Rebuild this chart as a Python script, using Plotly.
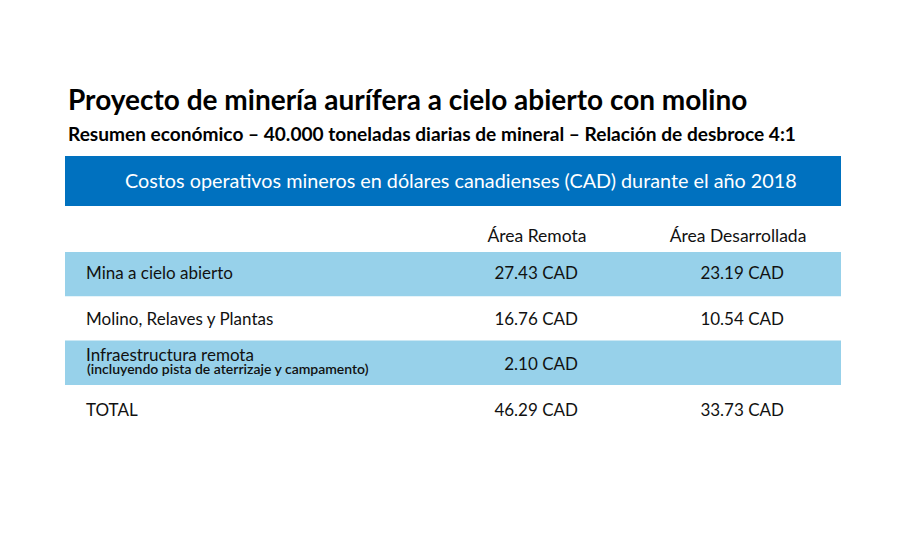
import plotly.graph_objects as go

# ---- data ----
title_text = "Proyecto de minería aurífera a cielo abierto con molino"
subtitle_text = "Resumen económico – 40.000 toneladas diarias de mineral – Relación de desbroce 4:1"
banner_text = "Costos operativos mineros en dólares canadienses (CAD) durante el año 2018"
column_headers = ["Área Remota", "Área Desarrollada"]
categories = ["Mina a cielo abierto", "Molino, Relaves y Plantas", "Infraestructura remota", "TOTAL"]
category_notes = ["", "", "(incluyendo pista de aterrizaje y campamento)", ""]
remote_values = [27.43, 16.76, 2.10, 46.29]
developed_values = [23.19, 10.54, None, 33.73]
currency = "CAD"

# ---- layout constants (page pixels) ----
PAGE_W, PAGE_H = 900, 540
BODY_MARGIN = 8  # default page margin around the plot div
LEFT, RIGHT = 65, 841
BANNER_TOP, BANNER_BOTTOM = 156, 206
ROW_TOP, ROW_H = 252, 44.3
TEXT_ROW_H = 45.5
LABEL_X = 86
REMOTE_RIGHT, DEV_RIGHT = 578, 784
REMOTE_CENTER, DEV_CENTER = 537, 738
HEADER_Y = 238
DARK_BLUE = "#0071BF"
LIGHT_BLUE = "#97D1EA"
TEXT = "#111111"
FONT = "Lato"
CELL_SIZE = 17

n = len(categories)
row_centers = [ROW_TOP + (i + 0.5) * TEXT_ROW_H for i in range(n)]
label_y = [c - 9 if note else c for c, note in zip(row_centers, category_notes)]

def fmt(v):
    return "" if v is None else f"{v:.2f} {currency}"

fig = go.Figure()

# category labels
fig.add_trace(go.Scatter(
    x=[LABEL_X] * n, y=label_y, mode="text", text=categories,
    textposition="middle right",
    textfont=dict(family=FONT, size=CELL_SIZE, color=TEXT),
    hoverinfo="skip", showlegend=False))

# category notes
note_idx = [i for i, nt in enumerate(category_notes) if nt]
fig.add_trace(go.Scatter(
    x=[LABEL_X + 1] * len(note_idx), y=[row_centers[i] + 5 for i in note_idx],
    mode="text", text=[category_notes[i] for i in note_idx],
    textposition="middle right",
    textfont=dict(family=FONT, size=14, color=TEXT, weight=600),
    hoverinfo="skip", showlegend=False))

# remote values
fig.add_trace(go.Scatter(
    x=[REMOTE_RIGHT] * n, y=row_centers, mode="text",
    text=[fmt(v) for v in remote_values], textposition="middle left",
    textfont=dict(family=FONT, size=CELL_SIZE, color=TEXT),
    hoverinfo="skip", showlegend=False))

# developed values
fig.add_trace(go.Scatter(
    x=[DEV_RIGHT] * n, y=row_centers, mode="text",
    text=[fmt(v) for v in developed_values], textposition="middle left",
    textfont=dict(family=FONT, size=CELL_SIZE, color=TEXT),
    hoverinfo="skip", showlegend=False))

# column headers
fig.add_trace(go.Scatter(
    x=[REMOTE_CENTER, DEV_CENTER], y=[HEADER_Y] * 2, mode="text",
    text=column_headers, textposition="middle center",
    textfont=dict(family=FONT, size=17.5, color=TEXT),
    hoverinfo="skip", showlegend=False))

shapes = [dict(type="rect", xref="x", yref="y", x0=LEFT, x1=RIGHT,
               y0=BANNER_TOP, y1=BANNER_BOTTOM, fillcolor=DARK_BLUE,
               line=dict(width=0), layer="below")]
for i in range(n):
    if i % 2 == 0:
        shapes.append(dict(type="rect", xref="x", yref="y", x0=LEFT, x1=RIGHT,
                           y0=ROW_TOP + i * ROW_H, y1=ROW_TOP + (i + 1) * ROW_H,
                           fillcolor=LIGHT_BLUE, line=dict(width=0), layer="below"))

annotations = [
    dict(text=title_text, x=66, y=99, xref="x", yref="y", xanchor="left",
         yanchor="middle", showarrow=False,
         font=dict(family=FONT, size=28, color="#000000", weight=700)),
    dict(text=subtitle_text, x=66, y=133, xref="x", yref="y", xanchor="left",
         yanchor="middle", showarrow=False,
         font=dict(family=FONT, size=19.1, color="#000000", weight=700)),
    dict(text=banner_text, x=461, y=180, xref="x", yref="y", xanchor="center",
         yanchor="middle", showarrow=False,
         font=dict(family=FONT, size=19.8, color="#FFFFFF")),
]

fig.update_layout(
    width=PAGE_W - BODY_MARGIN, height=PAGE_H - BODY_MARGIN,
    margin=dict(l=0, r=0, t=0, b=0),
    paper_bgcolor="white", plot_bgcolor="white",
    xaxis=dict(range=[BODY_MARGIN, PAGE_W], visible=False, fixedrange=True),
    yaxis=dict(range=[PAGE_H, BODY_MARGIN], visible=False, fixedrange=True),
    shapes=shapes, annotations=annotations,
)

fig.write_html("out.html")
